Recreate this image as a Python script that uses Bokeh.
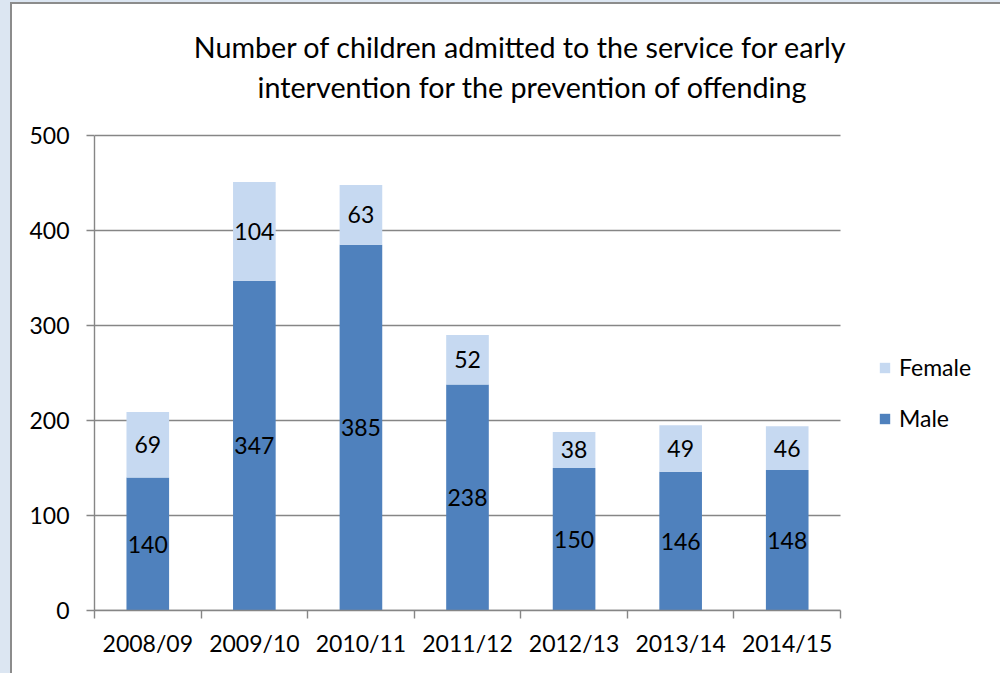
from bokeh.plotting import figure
from bokeh.layouts import column
from bokeh.models import (ColumnDataSource, Range1d, FixedTicker, LabelSet,
                          Label, Legend, LegendItem)
from bokeh.core.properties import value
from bokeh.embed import file_html
from bokeh.resources import INLINE

years = ["2008/09", "2009/10", "2010/11", "2011/12", "2012/13", "2013/14", "2014/15"]
male = [140, 347, 385, 238, 150, 146, 148]
female = [69, 104, 63, 52, 38, 49, 46]
y_ticks = [0, 100, 200, 300, 400, 500]
title_lines = ["Number of children admitted to the service for early",
               "intervention for the prevention of offending"]

MALE_C = "#4f81bd"
FEMALE_C = "#c6d9f1"
GRID_C = "#868686"
EDGE_C = "#8c8c8c"
PAGE_C = "#dce6f2"
FONT = "Lato"

# layout (pixels, in window coordinates)
WIN_W, WIN_H = 1000, 673
OX, OY = 12, 4                 # chart area starts after blue strip + grey edge
W, H = WIN_W - OX, WIN_H - OY
AX_X, AX_Y = 94, 610           # axis positions in window
LEFT = AX_X - OX
BOTTOM = H - (AX_Y - OY)
PLOT_W, PLOT_H = 746, 475      # visible value area (0..500, 7 categories)
frame_w = W - LEFT
frame_h = H - BOTTOM
n = len(years)
ymax = y_ticks[-1]
x_end = n * frame_w / PLOT_W
y_end = ymax * frame_h / PLOT_H

centers = [i + 0.5 for i in range(n)]
src = ColumnDataSource(dict(
    x=centers,
    male=male,
    female=female,
    total=[m + f for m, f in zip(male, female)],
    male_mid=[m / 2 for m in male],
    fem_mid=[m + f / 2 for m, f in zip(male, female)],
    male_txt=[str(m) for m in male],
    fem_txt=[str(f) for f in female],
))
grid_src = ColumnDataSource(dict(y=y_ticks, x0=[0] * len(y_ticks),
                                 x1=[n] * len(y_ticks)))

p = figure(width=W, height=H, x_range=Range1d(0, x_end),
           y_range=Range1d(0, y_end), output_backend="svg",
           toolbar_location=None, title=None,
           min_border_left=LEFT, min_border_right=0,
           min_border_top=0, min_border_bottom=BOTTOM)
p.outline_line_color = None
p.background_fill_color = None
p.border_fill_color = None
p.styles = {"background-color": "white"}
p.xgrid.visible = False
p.ygrid.visible = False

# horizontal gridlines limited to the category area
p.segment(x0="x0", x1="x1", y0="y", y1="y", source=grid_src,
          line_color=GRID_C, line_width=1.4)

r_male = p.vbar(x="x", width=0.4, bottom=0, top="male", source=src,
                fill_color=MALE_C, line_color=None)
r_fem = p.vbar(x="x", width=0.4, bottom="male", top="total", source=src,
               fill_color=FEMALE_C, line_color=None)

for col, ycol in (("male_txt", "male_mid"), ("fem_txt", "fem_mid")):
    p.add_layout(LabelSet(x="x", y=ycol, text=col, source=src,
                          text_align="center", text_baseline="middle",
                          text_font=value(FONT), text_font_size="23px",
                          text_color="black"))

# y axis
yax = p.yaxis[0]
yax.ticker = FixedTicker(ticks=y_ticks)
yax.bounds = (0, ymax)
yax.axis_line_color = GRID_C
yax.axis_line_width = 1.4
yax.major_tick_line_color = GRID_C
yax.major_tick_line_width = 1.4
yax.major_tick_out = 8
yax.major_tick_in = 0
yax.minor_tick_line_color = None
yax.major_label_standoff = 17
yax.major_label_text_font = FONT
yax.major_label_text_font_size = "23px"
yax.major_label_text_color = "black"

# x axis: ticks at category boundaries, labels at centres
xax = p.xaxis[0]
xax.ticker = FixedTicker(ticks=centers, minor_ticks=list(range(n + 1)))
xax.bounds = (0, n)
xax.major_label_overrides = {c: y for c, y in zip(centers, years)}
xax.axis_line_color = GRID_C
xax.axis_line_width = 1.4
xax.major_tick_line_color = None
xax.major_tick_out = 0
xax.major_tick_in = 0
xax.minor_tick_line_color = GRID_C
xax.minor_tick_line_width = 1.4
xax.minor_tick_out = 8
xax.minor_tick_in = 0
xax.major_label_standoff = 10
xax.major_label_text_font = FONT
xax.major_label_text_font_size = "23px"
xax.major_label_text_color = "black"

# title: two centred lines (screen units relative to frame bottom-left)
for txt, cx, base in ((title_lines[0], 520, 46), (title_lines[1], 532, 86)):
    p.add_layout(Label(x=cx - AX_X, y=AX_Y - base, x_units="screen",
                       y_units="screen", text=txt, text_align="center",
                       text_baseline="alphabetic", text_font=FONT,
                       text_font_size="28.7px", text_color="black"))

legend = Legend(items=[LegendItem(label="Female", renderers=[r_fem]),
                       LegendItem(label="Male", renderers=[r_male])],
                location=(878 - AX_X, AX_Y - 432), orientation="vertical",
                glyph_width=13, glyph_height=13, label_height=26,
                spacing=23, padding=0, margin=0, label_standoff=8,
                label_text_font=FONT, label_text_font_size="23px",
                label_text_color="black", border_line_color=None,
                background_fill_alpha=0)
p.add_layout(legend)

# window edge: light blue strip and grey chart border
p.margin = (2, 0, 0, 2)
inner = column(p, styles={"background-color": EDGE_C}, margin=(2, 0, 0, 10))
page = column(inner, styles={"background-color": PAGE_C})

open("out.html", "w").write(file_html(page, INLINE))
